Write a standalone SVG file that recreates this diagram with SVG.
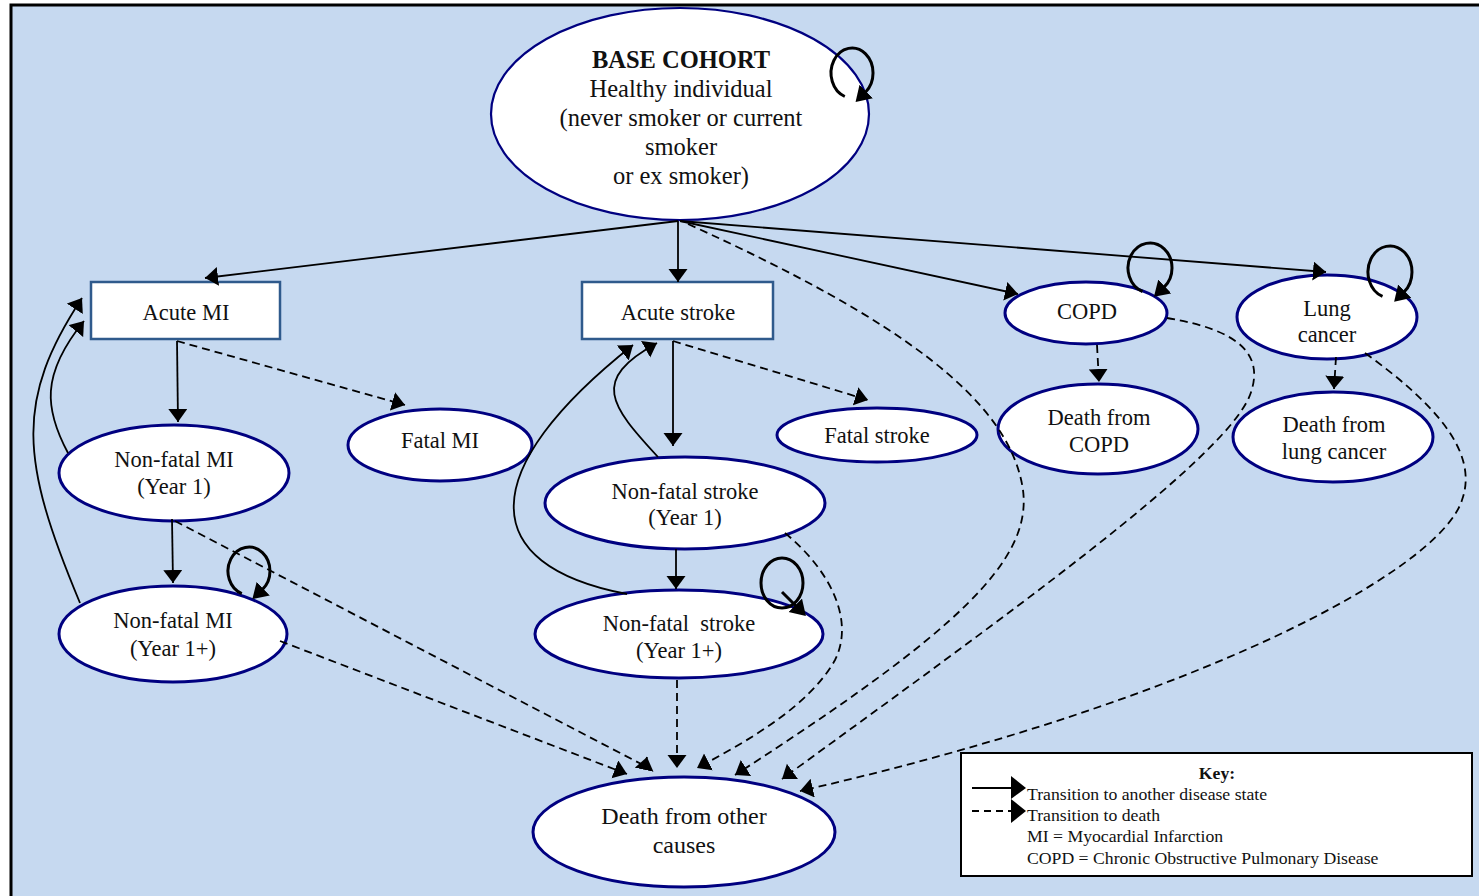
<svg xmlns="http://www.w3.org/2000/svg" width="1479" height="896" viewBox="0 0 1479 896">
<defs>
<marker id="ah" markerUnits="userSpaceOnUse" markerWidth="15" markerHeight="20" refX="13" refY="9.5" orient="auto"><path d="M0,0 L13,9.5 L0,19 z" fill="#000"/></marker>
<marker id="ahloop" markerUnits="userSpaceOnUse" markerWidth="18" markerHeight="20" refX="1" refY="9.5" orient="auto"><path d="M0,0 L15,9.5 L0,19 z" fill="#000"/></marker>
<style>
.t{font-family:"Liberation Serif","Times New Roman",serif;font-size:22.5px;fill:#111;text-anchor:middle}
.b{font-weight:bold}
.ell{fill:#fff;stroke:#000080;stroke-width:3}
.box{fill:#fff;stroke:#2F5A8C;stroke-width:2.5}
.s{fill:none;stroke:#000;stroke-width:1.8;marker-end:url(#ah)}
.d{fill:none;stroke:#000;stroke-width:1.8;stroke-dasharray:8 5;marker-end:url(#ah)}
.loop{fill:none;stroke:#000;stroke-width:3;marker-end:url(#ahloop)}
.k{font-family:"Liberation Serif","Times New Roman",serif;font-size:17.7px;fill:#111}
</style>
</defs>
<rect x="11" y="5" width="1480" height="900" fill="#C6D9F0" stroke="#000" stroke-width="3"/>

<g id="base">
<ellipse cx="680" cy="114" rx="189" ry="106" fill="#fff" stroke="#000080" stroke-width="2.2"/>
<text class="t b" x="681" y="68" style="font-size:24.5px">BASE COHORT</text>
<text class="t" x="681" y="97" style="font-size:24.5px">Healthy individual</text>
<text class="t" x="681" y="126" style="font-size:24.5px">(never smoker or current</text>
<text class="t" x="681" y="155" style="font-size:24.5px">smoker</text>
<text class="t" x="681" y="184" style="font-size:24.5px">or ex smoker)</text>
</g>

<g id="acute-mi">
<rect class="box" x="91" y="282" width="189" height="57"/>
<text class="t" x="186" y="320">Acute MI</text>
</g>
<g id="acute-stroke">
<rect class="box" x="582" y="282" width="191" height="57"/>
<text class="t" x="678" y="320">Acute stroke</text>
</g>
<g id="copd">
<ellipse class="ell" cx="1086" cy="313" rx="81" ry="31"/>
<text class="t" x="1087" y="319">COPD</text>
</g>
<g id="lung-cancer">
<ellipse class="ell" cx="1327" cy="317" rx="90" ry="42"/>
<text class="t" x="1327" y="316">Lung</text>
<text class="t" x="1327" y="342">cancer</text>
</g>
<g id="death-copd">
<ellipse class="ell" cx="1098" cy="429" rx="100" ry="45"/>
<text class="t" x="1099" y="425">Death from</text>
<text class="t" x="1099" y="452">COPD</text>
</g>
<g id="death-lung">
<ellipse class="ell" cx="1333" cy="437" rx="100" ry="45"/>
<text class="t" x="1334" y="432">Death from</text>
<text class="t" x="1334" y="459">lung cancer</text>
</g>
<g id="fatal-mi">
<ellipse class="ell" cx="440" cy="445" rx="92" ry="36"/>
<text class="t" x="440" y="448">Fatal MI</text>
</g>
<g id="nfmi-y1">
<ellipse class="ell" cx="174" cy="473" rx="115" ry="48"/>
<text class="t" x="174" y="467">Non-fatal MI</text>
<text class="t" x="174" y="494">(Year 1)</text>
</g>
<g id="nfmi-y1plus">
<ellipse class="ell" cx="173" cy="634" rx="114" ry="48"/>
<text class="t" x="173" y="628">Non-fatal MI</text>
<text class="t" x="173" y="656">(Year 1+)</text>
</g>
<g id="fatal-stroke">
<ellipse class="ell" cx="877" cy="435" rx="100" ry="27"/>
<text class="t" x="877" y="443">Fatal stroke</text>
</g>
<g id="nfs-y1">
<ellipse class="ell" cx="685" cy="503" rx="140" ry="46"/>
<text class="t" x="685" y="499">Non-fatal stroke</text>
<text class="t" x="685" y="525">(Year 1)</text>
</g>
<g id="nfs-y1plus">
<ellipse class="ell" cx="679" cy="634" rx="144" ry="44"/>
<text class="t" x="679" y="631" xml:space="preserve">Non-fatal  stroke</text>
<text class="t" x="679" y="658">(Year 1+)</text>
</g>
<g id="death-other">
<ellipse class="ell" cx="684" cy="832" rx="151" ry="55"/>
<text class="t" x="684" y="824" style="font-size:24px">Death from other</text>
<text class="t" x="684" y="853" style="font-size:24px">causes</text>
</g>

<g id="connectors">
<path class="s" d="M678,221 L205,278"/>
<path class="s" d="M678,221 L678,282"/>
<path class="s" d="M680,221 L1018,294"/>
<path class="s" d="M680,221 L1326,272"/>
<path class="d" d="M688,224 C900,320 1010,400 1023,490 C1032,560 960,630 735,775"/>
<path class="d" d="M1167,318 C1240,330 1265,355 1250,395 C1225,460 1000,620 782,779"/>
<path class="d" d="M1365,353 C1430,400 1480,450 1462,500 C1440,570 1200,700 800,791"/>
<path class="d" d="M1097,345 L1099,382"/>
<path class="d" d="M1336,357 L1334,389"/>

<path class="s" d="M177,341 L178,422"/>
<path class="d" d="M177,341 L405,405"/>
<path class="s" d="M172,519 L173,583"/>
<path class="s" d="M68,453 C45,410 40,375 84,321"/>
<path class="s" d="M80,603 C20,460 15,400 82,298"/>
<path class="d" d="M175,521 L645,766 L647,757"/>
<path class="d" d="M280,641 L627,774"/>

<path class="s" d="M673,341 L673,446"/>
<path class="d" d="M673,341 L868,400"/>
<path class="s" d="M676,549 L676,589"/>
<path class="s" d="M658,457 C610,405 590,380 657,343"/>
<path class="s" d="M627,594 C475,565 475,470 633,345"/>
<path class="d" d="M785,533 C830,570 855,620 835,660 C810,705 750,740 697,768"/>
<path class="d" d="M677,680 L677,768"/>

<path class="loop" d="M844.8,96.5 A21,25 0 1 1 865.5,92.2"/>
<path class="loop" d="M241.8,593.6 A21,24 0 1 1 262.5,589.4"/>
<path class="loop" d="M1142.5,291.5 A22,25 0 1 1 1164.1,287.2"/>
<path class="loop" d="M1382.5,296.4 A22,26 0 1 1 1404.1,291.9"/>
<ellipse cx="782" cy="583" rx="21" ry="25" fill="none" stroke="#000" stroke-width="3"/>
<path class="loop" d="M782,592 L796,606"/>
</g>

<g id="key">
<rect x="961" y="753" width="511" height="123" fill="#fff" stroke="#000" stroke-width="2"/>
<text class="k b" x="1217" y="779" text-anchor="middle">Key:</text>
<line x1="972" y1="788" x2="1014" y2="788" stroke="#000" stroke-width="2"/>
<path d="M1011,776 L1026,788 L1011,799 z" fill="#000"/>
<line x1="972" y1="811" x2="1014" y2="811" stroke="#000" stroke-width="2" stroke-dasharray="7 5"/>
<path d="M1011,799 L1026,811 L1011,823 z" fill="#000"/>
<text class="k" x="1027" y="800">Transition to another disease state</text>
<text class="k" x="1027" y="821">Transition to death</text>
<text class="k" x="1027" y="842">MI = Myocardial Infarction</text>
<text class="k" x="1027" y="864">COPD = Chronic Obstructive Pulmonary Disease</text>
</g>
</svg>
